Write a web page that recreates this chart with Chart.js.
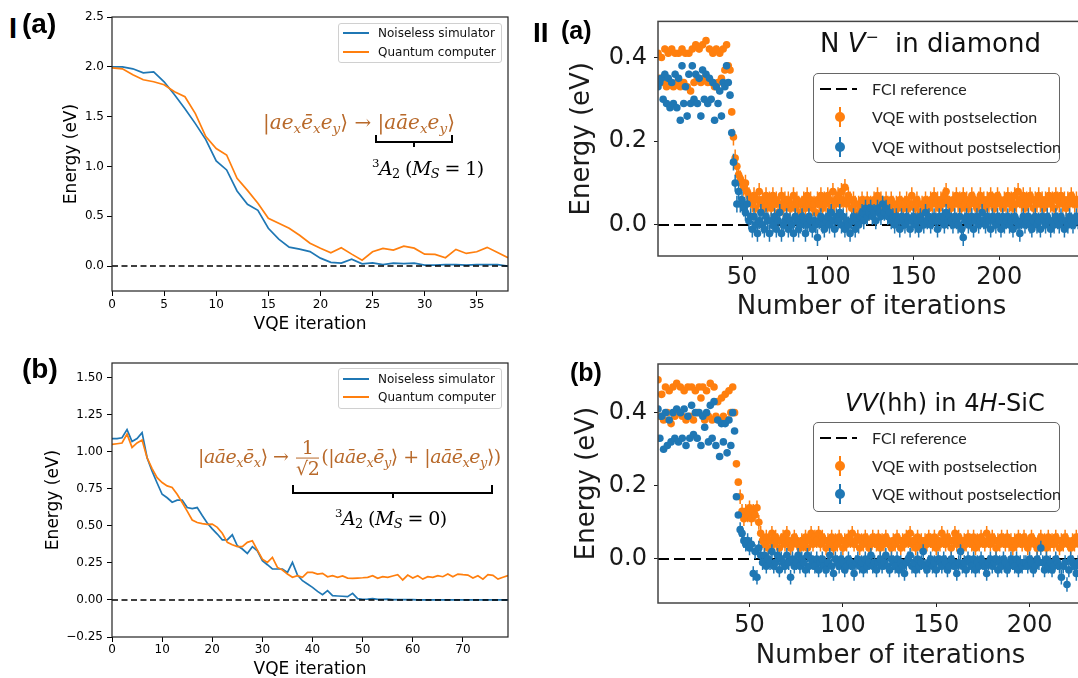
<!DOCTYPE html>
<html>
<head>
<meta charset="utf-8">
<title>VQE convergence</title>
<script src="https://cdn.jsdelivr.net/npm/chart.js@4.4.1/dist/chart.umd.min.js"></script>
<style>
  html, body { margin: 0; padding: 0; background: #fff; }
  body { position: relative; width: 1078px; height: 678px; overflow: hidden; font-family: 'DejaVu Sans', sans-serif; color: #000; }
  canvas { position: absolute; }
  .tag { position: absolute; font-family: 'Liberation Sans', Arial, sans-serif; font-weight: bold; line-height: 1; white-space: nowrap; }
  .legend { position: absolute; background: #fff; box-sizing: border-box; }
  .math { position: absolute; font-family: 'DejaVu Serif', serif; font-style: italic; white-space: nowrap; line-height: 1; transform: translateY(-50%); }
  .math .up { font-style: normal; }
  .math sub { font-size: 68%; vertical-align: -0.3em; line-height: 0; }
  .math sup { font-size: 62%; vertical-align: 0.6em; line-height: 0; }
  .brown { color: #b8692a; }
  .brace { position: absolute; box-sizing: border-box; border: 2px solid #000; border-top: none; }
  .brace::after { content: ''; position: absolute; left: 50%; top: 100%; width: 2px; height: 6px; margin-left: -1px; background: #000; }
  .frac { display: inline-block; vertical-align: middle; text-align: center; font-style: normal; margin: 0 2px; }
  .frac span { display: block; line-height: 1.05; }
  .frac .num { border-bottom: 1.5px solid currentColor; padding: 0 1px; }
  .title { position: absolute; font-size: 26px; white-space: nowrap; line-height: 1; color: #111; transform: translateY(-50%); }
</style>
</head>
<body>
<canvas id="cIa" width="470" height="340" style="left:50px;top:0px"></canvas>
<canvas id="cIb" width="490" height="345" style="left:30px;top:340px"></canvas>
<canvas id="cIIa" width="560" height="325" style="left:540px;top:0px"></canvas>
<canvas id="cIIb" width="600" height="334" style="left:540px;top:340px"></canvas>

<div class="tag" style="left:9px;top:14px;font-size:29px">I</div>
<div class="tag" style="left:22px;top:10px;font-size:28px">(a)</div>
<div class="tag" style="left:22px;top:355px;font-size:28px">(b)</div>
<div class="tag" style="left:533px;top:19px;font-size:28px">II</div>
<div class="tag" style="left:561px;top:18px;font-size:25px">(a)</div>
<div class="tag" style="left:570px;top:360px;font-size:25px">(b)</div>

<div class="title" style="left:820px;top:43px">N <i>V</i><sup style="font-size:60%">−</sup>&nbsp; in diamond</div>
<div class="title" style="left:845px;top:403px;font-size:24px"><i>VV</i>(hh) in 4<i>H</i>-SiC</div>

<div class="math brown" style="left:263px;top:122px;font-size:20px"><span class="up">|</span>ae<sub>x</sub>ē<sub>x</sub>e<sub>y</sub><span class="up">⟩ → |</span>aāe<sub>x</sub>e<sub>y</sub><span class="up">⟩</span></div>
<div class="brace" style="left:375px;top:135px;width:78px;height:8px"></div>
<div class="math" style="left:372px;top:168px;font-size:19px;letter-spacing:-0.6px"><sup class="up">3</sup>A<sub class="up">2</sub><span class="up"> (</span>M<sub>S</sub><span class="up"> = 1)</span></div>

<div class="math brown" style="left:198px;top:458px;font-size:19px;letter-spacing:-0.5px"><span class="up">|</span>aāe<sub>x</sub>ē<sub>x</sub><span class="up">⟩ → </span><span class="frac"><span class="num">1</span><span>√2</span></span><span class="up">(|</span>aāe<sub>x</sub>ē<sub>y</sub><span class="up">⟩ + |</span>aāē<sub>x</sub>e<sub>y</sub><span class="up">⟩)</span></div>
<div class="brace" style="left:292px;top:485px;width:201px;height:9px"></div>
<div class="math" style="left:335px;top:518px;font-size:19px;letter-spacing:-0.6px"><sup class="up">3</sup>A<sub class="up">2</sub><span class="up"> (</span>M<sub>S</sub><span class="up"> = 0)</span></div>

<script>
// ---- data: panel I (energy per VQE iteration, eV) ----
const seriesNames = ['Noiseless simulator', 'Quantum computer'];
const simIa = [2.00, 2.00, 1.98, 1.94, 1.95, 1.85, 1.72, 1.58, 1.43, 1.27,
  1.055, 0.965, 0.754, 0.62, 0.56, 0.38, 0.27, 0.19, 0.17, 0.145,
  0.08, 0.037, 0.03, 0.07, 0.023, 0.033, 0.015, 0.03, 0.025, 0.03,
  0.01, 0.01, 0.015, 0.015, 0.01, 0.015, 0.015, 0.015, 0.0];
const qcIa = [1.99, 1.98, 1.92, 1.87, 1.85, 1.82, 1.75, 1.70, 1.53, 1.30,
  1.18, 1.115, 0.88, 0.76, 0.63, 0.48, 0.43, 0.38, 0.31, 0.23,
  0.18, 0.134, 0.184, 0.12, 0.06, 0.144, 0.178, 0.16, 0.20, 0.18,
  0.12, 0.117, 0.084, 0.167, 0.127, 0.144, 0.188, 0.137, 0.084];
const simIb = [1.09, 1.09, 1.095, 1.15, 1.07, 1.09, 1.13, 0.96, 0.87, 0.79,
  0.714, 0.69, 0.66, 0.674, 0.674, 0.624, 0.617, 0.624, 0.57, 0.52,
  0.48, 0.445, 0.406, 0.406, 0.44, 0.366, 0.344, 0.314, 0.36, 0.332,
  0.265, 0.238, 0.209, 0.209, 0.209, 0.186, 0.254, 0.168, 0.13, 0.108,
  0.085, 0.058, 0.036, 0.063, 0.029, 0.027, 0.025, 0.022, 0.045, 0.009,
  0.005, 0.006, 0.009, 0.004, 0.004, 0.006, 0.003, 0.003, 0.002, 0.002,
  0.002, 0.001, 0.001, 0.001, 0.001, 0.001, 0.001, 0.001, 0.001, 0.001,
  0.0, 0.0, 0.0, 0.0, 0.0, 0.0, 0.0, 0.0, 0.0, 0.0];
const qcIb = [1.05, 1.055, 1.06, 1.12, 1.03, 1.06, 1.08, 0.96, 0.887, 0.826,
  0.793, 0.77, 0.76, 0.714, 0.658, 0.60, 0.54, 0.523, 0.516, 0.51,
  0.512, 0.49, 0.45, 0.389, 0.373, 0.36, 0.36, 0.389, 0.40, 0.337,
  0.276, 0.254, 0.287, 0.22, 0.202, 0.175, 0.153, 0.164, 0.153, 0.186,
  0.186, 0.175, 0.18, 0.157, 0.164, 0.153, 0.162, 0.148, 0.146, 0.148,
  0.15, 0.153, 0.164, 0.146, 0.157, 0.153, 0.162, 0.171, 0.135, 0.168,
  0.148, 0.164, 0.141, 0.157, 0.153, 0.164, 0.157, 0.175, 0.157, 0.175,
  0.171, 0.168, 0.148, 0.164, 0.141, 0.171, 0.166, 0.141, 0.153, 0.164];
const xTicksIa = [0, 5, 10, 15, 20, 25, 30, 35];
const yTicksIa = [0, 0.5, 1.0, 1.5, 2.0, 2.5];
const xTicksIb = [0, 10, 20, 30, 40, 50, 60, 70];
const yTicksIb = [-0.25, 0, 0.25, 0.5, 0.75, 1.0, 1.25, 1.5];

// ---- data: panel II (iterations start at 1) ----
const legendII = ['FCI reference', 'VQE with postselection', 'VQE without postselection'];
const postIIa = [0.41, 0.35, 0.40, 0.34, 0.42, 0.33, 0.41, 0.34, 0.42, 0.33,
  0.41, 0.34, 0.41, 0.33, 0.42, 0.34, 0.41, 0.33, 0.41, 0.32,
  0.42, 0.34, 0.43, 0.35, 0.42, 0.34, 0.43, 0.35, 0.44, 0.34,
  0.42, 0.34, 0.41, 0.33, 0.42, 0.34, 0.41, 0.35, 0.42, 0.37,
  0.43, 0.38, 0.37,
  0.27, 0.21, 0.16, 0.14, 0.12, 0.11, 0.10, 0.09, 0.10, 0.08, 0.07, 0.06,
  0.05, 0.07, 0.04, 0.06, 0.08, 0.05, 0.06, 0.04, 0.07, 0.05,
  0.06, 0.04, 0.07, 0.05, 0.06, 0.03, 0.05, 0.07, 0.04, 0.06,
  0.05, 0.06, 0.04, 0.05, 0.07, 0.04, 0.06, 0.05, 0.03, 0.05,
  0.06, 0.04, 0.07, 0.05, 0.06, 0.04, 0.05, 0.03, 0.06, 0.05,
  0.07, 0.04, 0.06, 0.05, 0.07, 0.06, 0.04, 0.08, 0.05, 0.06,
  0.07, 0.05, 0.08, 0.06, 0.09, 0.05, 0.07, 0.06, 0.04, 0.06,
  0.05, 0.03, 0.05, 0.04, 0.06, 0.05, 0.04, 0.06, 0.03, 0.05,
  0.04, 0.06, 0.05, 0.07, 0.04, 0.06, 0.05, 0.04, 0.06, 0.05,
  0.04, 0.06, 0.05, 0.03, 0.05, 0.04, 0.06, 0.05, 0.04, 0.05,
  0.06, 0.04, 0.05, 0.07, 0.05, 0.04, 0.06, 0.05, 0.03, 0.05,
  0.04, 0.06, 0.05, 0.04, 0.06, 0.05, 0.07, 0.05, 0.06, 0.04,
  0.06, 0.05, 0.07, 0.08, 0.06, 0.05, 0.04, 0.06, 0.05, 0.07,
  0.05, 0.06, 0.04, 0.07, 0.05, 0.06, 0.04, 0.05, 0.07, 0.06,
  0.05, 0.04, 0.06, 0.07, 0.05, 0.06, 0.04, 0.06, 0.05, 0.07,
  0.06, 0.04, 0.05, 0.07, 0.06, 0.05, 0.04, 0.06, 0.05, 0.07,
  0.05, 0.06, 0.04, 0.07, 0.05, 0.08, 0.06, 0.05, 0.07, 0.04,
  0.06, 0.05, 0.07, 0.06, 0.04, 0.06, 0.05, 0.07, 0.05, 0.06,
  0.04, 0.06, 0.05, 0.07, 0.05, 0.06, 0.04, 0.07, 0.06, 0.05,
  0.07, 0.05, 0.06, 0.04, 0.06, 0.05, 0.07, 0.06, 0.05, 0.06, 0.05];
const rawIIa = [0.33, 0.34, 0.35, 0.30, 0.36, 0.29, 0.35, 0.28, 0.34, 0.29,
  0.36, 0.28, 0.35, 0.25, 0.38, 0.29, 0.33, 0.26, 0.36, 0.29,
  0.38, 0.30, 0.36, 0.29, 0.35, 0.26, 0.37, 0.30, 0.36, 0.29,
  0.35, 0.30, 0.34, 0.25, 0.33, 0.29, 0.32, 0.26, 0.34, 0.33,
  0.38, 0.34, 0.31,
  0.22, 0.15, 0.10, 0.05, 0.08, 0.05, 0.06, 0.04, 0.03, 0.05, 0.01, 0.02,
  -0.01, 0.02, 0.00, -0.02, 0.01, 0.03, 0.00, -0.01, 0.02, 0.01,
  -0.02, 0.01, 0.00, 0.02, -0.01, 0.01, 0.03, -0.02, 0.00, 0.01,
  0.02, -0.01, 0.01, 0.00, -0.02, 0.02, 0.01, -0.01, 0.00, 0.02,
  0.01, -0.02, 0.00, 0.02, 0.01, -0.01, 0.01, 0.00, -0.03, 0.01,
  0.02, 0.00, -0.01, 0.01, 0.02, 0.00, 0.03, 0.01, -0.01, 0.02,
  0.01, 0.03, 0.00, 0.02, -0.01, 0.01, 0.00, -0.02, 0.01, 0.02,
  -0.01, 0.01, 0.00, 0.02, 0.03, 0.01, 0.04, 0.02, 0.03, 0.04,
  0.02, 0.03, 0.01, 0.04, 0.03, 0.02, 0.05, 0.03, 0.04, 0.02,
  0.03, 0.01, 0.02, 0.00, 0.02, 0.01, -0.01, 0.02, 0.01, 0.00,
  0.02, 0.01, -0.01, 0.01, 0.02, 0.00, 0.01, -0.01, 0.02, 0.01,
  0.00, 0.03, 0.01, 0.02, 0.00, 0.01, 0.02, 0.01, -0.01, 0.02,
  0.01, 0.02, 0.00, 0.03, 0.01, 0.02, 0.01, 0.00, 0.02, 0.01,
  0.00, 0.02, -0.01, -0.03, 0.01, 0.02, 0.00, 0.01, 0.02, -0.01,
  0.01, 0.02, 0.00, 0.01, 0.03, 0.01, 0.00, 0.02, 0.01, -0.01,
  0.02, 0.01, 0.00, 0.02, 0.01, -0.01, 0.02, 0.00, 0.01, 0.02,
  0.00, 0.01, -0.01, 0.02, 0.01, 0.00, -0.02, 0.01, 0.02, 0.00,
  0.01, 0.02, 0.00, -0.01, 0.01, 0.02, 0.00, 0.01, -0.01, 0.02,
  0.01, 0.00, 0.02, 0.01, -0.01, 0.01, 0.00, 0.02, 0.01, 0.00,
  0.02, 0.01, -0.01, 0.01, 0.00, 0.02, 0.01, 0.00, 0.01, 0.02, 0.01];
const postIIb = [0.49, 0.39, 0.45, 0.38, 0.47, 0.40, 0.46, 0.37, 0.47, 0.39,
  0.48, 0.40, 0.47, 0.39, 0.46, 0.38, 0.47, 0.39, 0.47, 0.38,
  0.46, 0.40, 0.47, 0.44, 0.47, 0.38, 0.46, 0.39, 0.48, 0.38,
  0.47, 0.39, 0.43, 0.38, 0.44, 0.39, 0.45, 0.38, 0.46, 0.40,
  0.47, 0.40, 0.26,
  0.21, 0.17, 0.13, 0.11, 0.13, 0.12, 0.14, 0.11, 0.13, 0.12, 0.14, 0.10, 0.07, 0.05,
  0.04, 0.06, 0.03, 0.05, 0.07, 0.04, 0.06, 0.05, 0.03, 0.05,
  0.06, 0.04, 0.07, 0.05, 0.03, 0.04, 0.06, 0.05, 0.04, 0.03,
  0.05, 0.04, 0.06, 0.03, 0.05, 0.07, 0.04, 0.06, 0.05, 0.07,
  0.04, 0.06, 0.05, 0.03, 0.05, 0.04, 0.06, 0.03, 0.05, 0.04,
  0.06, 0.05, 0.03, 0.05, 0.04, 0.06, 0.05, 0.07, 0.04, 0.05,
  0.06, 0.03, 0.05, 0.04, 0.06, 0.05, 0.03, 0.04, 0.06, 0.05,
  0.04, 0.06, 0.03, 0.05, 0.04, 0.06, 0.05, 0.04, 0.03, 0.05,
  0.04, 0.06, 0.05, 0.03, 0.05, 0.04, 0.06, 0.05, 0.07, 0.04,
  0.05, 0.03, 0.06, 0.04, 0.05, 0.03, 0.05, 0.04, 0.06, 0.05,
  0.04, 0.06, 0.03, 0.05, 0.04, 0.07, 0.05, 0.04, 0.06, 0.05,
  0.03, 0.05, 0.07, 0.04, 0.06, 0.05, 0.03, 0.05, 0.04, 0.06,
  0.05, 0.04, 0.06, 0.03, 0.05, 0.04, 0.06, 0.05, 0.04, 0.07,
  0.05, 0.04, 0.06, 0.05, 0.03, 0.05, 0.04, 0.06, 0.05, 0.04,
  0.06, 0.04, 0.05, 0.03, 0.05, 0.04, 0.06, 0.05, 0.04, 0.06,
  0.05, 0.03, 0.04, 0.06, 0.05, 0.04, 0.03, 0.05, 0.06, 0.04,
  0.05, 0.03, 0.06, 0.04, 0.05, 0.04, 0.06, 0.05, 0.03, 0.05,
  0.04, 0.06, 0.05, 0.04, 0.03, 0.05, 0.04, 0.06, 0.05, 0.04, 0.05];
const rawIIb = [0.41, 0.33, 0.39, 0.30, 0.40, 0.31, 0.38, 0.32, 0.40, 0.33,
  0.41, 0.32, 0.40, 0.33, 0.41, 0.31, 0.39, 0.33, 0.42, 0.34,
  0.40, 0.33, 0.40, 0.31, 0.39, 0.36, 0.40, 0.32, 0.42, 0.33,
  0.43, 0.31, 0.38, 0.28, 0.37, 0.32, 0.37, 0.29, 0.38, 0.31,
  0.40, 0.35, 0.17,
  0.12, 0.08, 0.07, 0.05, 0.04, 0.05, 0.03, 0.04, -0.04, 0.02, -0.05, 0.03, 0.01, -0.01,
  0.01, -0.02, 0.00, -0.01, 0.02, -0.02, -0.01, 0.01, -0.03, 0.00,
  -0.01, -0.02, 0.01, -0.01, -0.05, 0.00, -0.02, -0.01, 0.01, -0.02,
  0.00, -0.01, -0.03, 0.01, -0.02, 0.00, -0.01, -0.02, 0.00, -0.03,
  -0.01, 0.00, -0.02, -0.03, -0.01, 0.01, -0.02, -0.04, 0.00, -0.01,
  -0.02, 0.00, -0.01, -0.03, -0.02, 0.00, -0.01, -0.02, -0.04, -0.01,
  0.00, -0.02, -0.01, -0.03, 0.00, -0.02, -0.01, 0.01, -0.02, -0.01,
  -0.03, -0.01, 0.00, -0.02, -0.01, 0.01, -0.02, -0.03, 0.00, -0.01,
  -0.02, 0.00, -0.03, -0.01, -0.02, -0.04, -0.01, 0.00, 0.01, -0.02,
  -0.01, -0.03, 0.00, -0.02, -0.01, 0.02, -0.02, -0.03, -0.01, 0.00,
  -0.02, -0.01, -0.03, 0.00, -0.01, -0.02, 0.00, -0.01, -0.03, -0.02,
  0.00, -0.01, -0.02, -0.04, -0.01, 0.02, -0.02, -0.01, -0.03, 0.00,
  -0.01, -0.02, 0.00, -0.03, -0.01, -0.02, 0.00, -0.01, -0.02, -0.04,
  -0.01, 0.00, -0.02, -0.01, 0.00, -0.03, -0.01, -0.02, 0.00, -0.01,
  -0.03, -0.02, 0.00, -0.01, -0.02, 0.00, -0.03, -0.01, -0.02, -0.01,
  -0.01, -0.02, 0.00, -0.01, -0.03, -0.02, 0.00, -0.01, 0.03, -0.01,
  -0.03, 0.00, -0.02, -0.01, -0.03, -0.02, 0.00, -0.01, -0.02, -0.05,
  -0.02, -0.01, -0.07, -0.03, 0.00, -0.01, -0.02, -0.04, -0.01, -0.02, 0.00];
const xTicksII = [50, 100, 150, 200];
const yTicksII = [0, 0.2, 0.4];
const refEnergy = 0;           // FCI reference / exact ground state
const errEarly = 0.008;        // shot-noise bar before convergence
const errLate = 0.02;          // shot-noise bar on the plateau
const convergedAt = 45;

const BLUE = '#1f77b4';
const ORANGE = '#ff7f0e';

// ---- helpers ----
const pts = (vals, start) => vals.map((v, k) => ({x: k + start, y: v}));
const fmt = d => v => v.toFixed(d).replace('-', '\u2212');

const frame = (color, width) => ({
  id: 'frame',
  afterDraw(chart) {
    const {ctx, chartArea: a} = chart;
    ctx.save();
    ctx.strokeStyle = color;
    ctx.lineWidth = width;
    ctx.strokeRect(a.left, a.top, a.right - a.left, a.bottom - a.top);
    ctx.restore();
  }
});

// vertical error bars drawn under each marker set
const errorBars = {
  id: 'errorBars',
  beforeDatasetDraw(chart, args) {
    const ds = chart.data.datasets[args.index];
    if (!ds.errors) return;
    const {ctx, chartArea: a, scales: {y}} = chart;
    ctx.save();
    ctx.beginPath();
    ctx.rect(a.left, a.top, a.right - a.left, a.bottom - a.top);
    ctx.clip();
    ctx.beginPath();
    ctx.strokeStyle = ds.backgroundColor;
    ctx.lineWidth = 1.5;
    args.meta.data.forEach((el, k) => {
      const p = ds.data[k], e = ds.errors[k];
      ctx.moveTo(el.x, y.getPixelForValue(p.y - e));
      ctx.lineTo(el.x, y.getPixelForValue(p.y + e));
    });
    ctx.stroke();
    ctx.restore();
  }
};

function axis(o) {
  return {
    type: 'linear', min: o.min, max: o.max,
    afterBuildTicks: s => { s.ticks = o.ticks.map(v => ({value: v})); },
    afterFit: s => { if (s.isHorizontal()) s.height = o.size; else s.width = o.size; },
    border: {display: false},
    grid: {drawOnChartArea: false, drawTicks: true, tickLength: o.tickLen, tickColor: o.color, tickWidth: 1},
    ticks: {color: o.color, font: {family: 'DejaVu Sans', size: o.tickFont}, padding: o.tickPad,
            autoSkip: false, maxRotation: 0, minRotation: 0, callback: o.fmt},
    title: {display: true, text: o.title, color: o.color,
            font: {family: 'DejaVu Sans', size: o.titleFont}, padding: o.titlePad}
  };
}

function vqeLineChart(id, c) {
  return new Chart(document.getElementById(id), {
    type: 'line',
    data: {datasets: [
      {label: 'reference', data: [{x: c.xMin, y: refEnergy}, {x: c.xMax, y: refEnergy}],
       borderColor: '#000', borderWidth: 1.5, borderDash: [6, 3.5], order: 0},
      {label: seriesNames[1], data: pts(c.qc, 0), borderColor: ORANGE, borderWidth: 1.7, order: 1},
      {label: seriesNames[0], data: pts(c.sim, 0), borderColor: BLUE, borderWidth: 1.7, order: 2}
    ]},
    options: {
      responsive: false, animation: false, events: [],
      elements: {point: {radius: 0}, line: {tension: 0, fill: false}},
      layout: {padding: c.pad},
      plugins: {legend: {display: false}, tooltip: {enabled: false}},
      scales: {
        x: axis({min: c.xMin, max: c.xMax, ticks: c.xTicks, size: c.xSize, tickLen: 5, tickPad: c.xTickPad,
                 color: '#000', tickFont: 12, titleFont: 17, title: 'VQE iteration',
                 titlePad: {top: 0, bottom: 5}, fmt: v => String(v)}),
        y: axis({min: c.yMin, max: c.yMax, ticks: c.yTicks, size: c.ySize, tickLen: 5, tickPad: c.yTickPad,
                 color: '#000', tickFont: 12, titleFont: 17, title: 'Energy (eV)',
                 titlePad: {top: c.yTitlePad, bottom: 0}, fmt: fmt(c.yDec)})
      }
    },
    plugins: [frame('#222', 1.2)]
  });
}

function markerSet(label, vals, color, order) {
  return {
    label, order,
    data: pts(vals, 1),
    errors: vals.map((v, k) => (k + 1 < convergedAt ? errEarly : errLate)),
    backgroundColor: color, borderColor: color, borderWidth: 0,
    pointRadius: 3.8, pointHoverRadius: 3.8, showLine: false
  };
}

function vqeScatterChart(id, c) {
  return new Chart(document.getElementById(id), {
    type: 'scatter',
    data: {datasets: [
      {label: legendII[0], data: [{x: c.xMin, y: refEnergy}, {x: c.xMax, y: refEnergy}], showLine: true,
       borderColor: '#000', borderWidth: 2, borderDash: [11, 5], pointRadius: 0, order: 3},
      markerSet(legendII[1], c.post, ORANGE, 2),
      markerSet(legendII[2], c.raw, BLUE, 1)
    ]},
    options: {
      responsive: false, animation: false, events: [],
      layout: {padding: c.pad},
      plugins: {legend: {display: false}, tooltip: {enabled: false}},
      scales: {
        x: axis({min: c.xMin, max: c.xMax, ticks: xTicksII, size: c.xSize, tickLen: 4, tickPad: c.xTickPad,
                 color: '#1a1a1a', tickFont: 24, titleFont: 26, title: 'Number of iterations',
                 titlePad: {top: 0, bottom: 2.4}, fmt: v => String(v)}),
        y: axis({min: c.yMin, max: c.yMax, ticks: yTicksII, size: 118, tickLen: 4, tickPad: 7,
                 color: '#1a1a1a', tickFont: 24, titleFont: 26, title: 'Energy (eV)',
                 titlePad: {top: c.yTitlePad, bottom: 0}, fmt: fmt(1)})
      }
    },
    plugins: [errorBars, frame('#444', 1.5)]
  });
}

vqeLineChart('cIa', {sim: simIa, qc: qcIa, xMin: 0, xMax: 38, yMin: -0.25, yMax: 2.5,
  xTicks: xTicksIa, yTicks: yTicksIa, yDec: 1, pad: {top: 17, right: 12, left: 0, bottom: 0},
  xSize: 49, ySize: 62, xTickPad: 2, yTickPad: 3, yTitlePad: 11});
vqeLineChart('cIb', {sim: simIb, qc: qcIb, xMin: 0, xMax: 79, yMin: -0.25, yMax: 1.6,
  xTicks: xTicksIb, yTicks: yTicksIb, yDec: 2, pad: {top: 23, right: 12, left: 0, bottom: 0},
  xSize: 48, ySize: 82, xTickPad: 1, yTickPad: 4, yTitlePad: 13});
vqeScatterChart('cIIa', {post: postIIa, raw: rawIIa, xMin: 1, xMax: 250, yMin: -0.074, yMax: 0.486,
  pad: {top: 14, right: 15, left: 0, bottom: 0}, xSize: 69, xTickPad: 3, yTitlePad: 26.4});
vqeScatterChart('cIIb', {post: postIIb, raw: rawIIb, xMin: 1, xMax: 250, yMin: -0.1205, yMax: 0.533,
  pad: {top: 24, right: 17, left: 0, bottom: 0}, xSize: 71, xTickPad: 4.5, yTitlePad: 31.4});

// ---- legends (matplotlib-style boxes) ----
function buildLegend(box, rows) {
  const el = document.createElement('div');
  el.className = 'legend';
  Object.assign(el.style, {left: box.x + 'px', top: box.y + 'px', width: box.w + 'px', height: box.h + 'px',
    border: box.border, borderRadius: box.radius + 'px', fontFamily: box.font, fontSize: box.size + 'px', color: box.color});
  rows.forEach((r, k) => {
    const cy = box.rowY[k];
    const sym = document.createElement('div');
    sym.style.position = 'absolute';
    if (r.kind === 'line') {
      Object.assign(sym.style, {left: box.symX + 'px', top: (cy - 1) + 'px', width: box.symW + 'px', height: '2px', background: r.color});
    } else if (r.kind === 'dash') {
      Object.assign(sym.style, {left: box.symX + 'px', top: (cy - 1) + 'px', width: box.symW + 'px', height: '2px',
        background: 'repeating-linear-gradient(90deg,#000 0 11px,transparent 11px 16px)'});
    } else {
      Object.assign(sym.style, {left: (box.markX - 5) + 'px', top: (cy - 10) + 'px', width: '10px', height: '20px'});
      const bar = document.createElement('div');
      Object.assign(bar.style, {position: 'absolute', left: '4px', top: '0', width: '2px', height: '20px', background: r.color});
      const dot = document.createElement('div');
      Object.assign(dot.style, {position: 'absolute', left: '0', top: '5px', width: '10px', height: '10px', borderRadius: '50%', background: r.color});
      sym.appendChild(bar);
      sym.appendChild(dot);
    }
    el.appendChild(sym);
    const t = document.createElement('div');
    t.textContent = r.label;
    Object.assign(t.style, {position: 'absolute', left: box.textX + 'px', top: cy + 'px', transform: 'translateY(-50%)', whiteSpace: 'nowrap', lineHeight: '1'});
    el.appendChild(t);
  });
  document.body.appendChild(el);
}

const leftRows = [{label: seriesNames[0], color: BLUE, kind: 'line'}, {label: seriesNames[1], color: ORANGE, kind: 'line'}];
const leftBox = {x: 338, w: 164, border: '1px solid #d0d0d0', radius: 3, font: "'DejaVu Sans', sans-serif", size: 12, color: '#111', symX: 4, symW: 26, textX: 39};
buildLegend(Object.assign({}, leftBox, {y: 23, h: 40, rowY: [9, 28]}), leftRows);
buildLegend(Object.assign({}, leftBox, {y: 368, h: 41, rowY: [10, 28]}), leftRows);

const rightRows = [{label: legendII[0], kind: 'dash'}, {label: legendII[1], color: ORANGE, kind: 'err'}, {label: legendII[2], color: BLUE, kind: 'err'}];
const rightBox = {x: 813, w: 247, h: 90, border: '1.5px solid #666', radius: 5, font: "Lato, 'Open Sans', sans-serif", size: 16, color: '#222', symX: 6, symW: 37, markX: 26, textX: 58};
buildLegend(Object.assign({}, rightBox, {y: 73, rowY: [15, 43, 73]}), rightRows);
buildLegend(Object.assign({}, rightBox, {y: 422, rowY: [15, 43, 71]}), rightRows);
</script>
</body>
</html>
